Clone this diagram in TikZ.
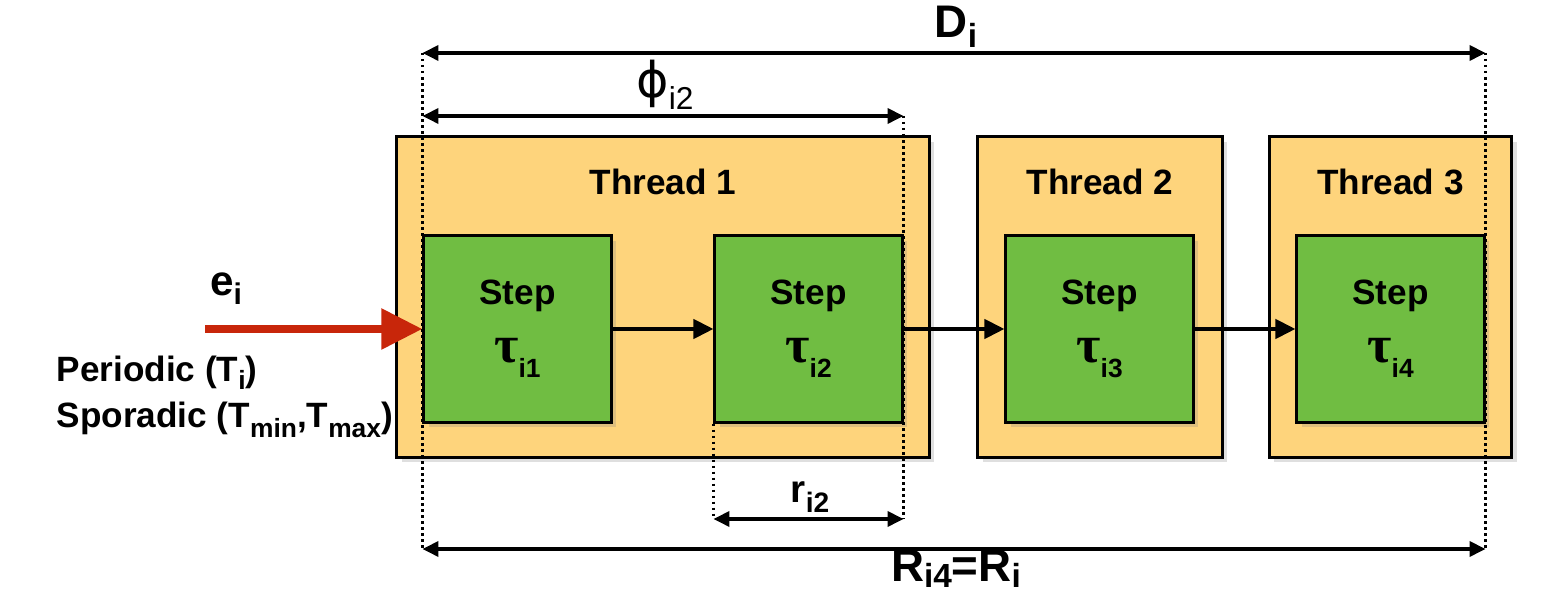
\documentclass[tikz,border=0pt]{standalone}
\usepackage{fontspec}
\setmainfont{Liberation Sans}
\newfontfamily\taufont{Liberation Serif}
\newfontfamily\phifont{DejaVu Sans}
\usetikzlibrary{arrows.meta,shadows}
\definecolor{thr}{RGB}{254,212,124}
\definecolor{stp}{RGB}{112,189,66}
\definecolor{evt}{RGB}{200,38,10}
\newcommand{\lowsub}[3]{\raisebox{-#1}{\fontsize{#2}{#2}\selectfont #3}}

\begin{document}
\begin{tikzpicture}[x=0.01cm,y=-0.01cm,font=\bfseries\fontsize{10}{12}\selectfont,
  threadbox/.style={draw,line width=0.85pt,fill=thr,inner sep=0pt,minimum height=32mm,
    drop shadow={shadow xshift=0.5mm,shadow yshift=-0.5mm,opacity=0.25}},
  stepbox/.style={draw,line width=0.85pt,fill=stp,inner sep=0pt,minimum width=18.7mm,
    minimum height=18.6mm,align=center,
    drop shadow={shadow xshift=0.5mm,shadow yshift=-0.5mm,opacity=0.25}},
  flow/.style={line width=1.2pt,-{Triangle[length=2mm,width=1.9mm]}},
  dimline/.style={line width=1pt,{Triangle[length=1.6mm,width=1.5mm]}-{Triangle[length=1.6mm,width=1.5mm]}},
  guide/.style={line width=0.9pt,dash pattern=on 0.25mm off 0.35mm}]
\useasboundingbox (0,0) rectangle (1560,595);
% threads
\foreach \n/\cx/\w in {1/663/53.2,2/1100/24.4,3/1390.5/24.2}{
  \node[threadbox,minimum width=\w mm] (t\n) at (\cx,297) {};
  \node[anchor=base] (tl\n) at (\cx,195) {Thread \n};
}
% steps
\foreach \n/\cx in {1/517.5,2/808.5,3/1099.5,4/1390.5}{
  \node[stepbox] (s\n) at (\cx,329) {Step\\[4.5pt]{\taufont\fontsize{15}{15}\selectfont τ}\lowsub{1.5mm}{7.5}{i\n}};
}
\foreach \a/\b in {1/2,2/3,3/4}{ \draw[flow] (s\a) -- (s\b); }
% event
\coordinate (ev) at (205,329);
\draw[evt,line width=2.4pt,-{Triangle[length=4.1mm,width=3.9mm]}] (ev) -- (s1.west);
\node[anchor=base] (ei) at (226,296) {\fontsize{12}{14}\selectfont e\lowsub{0.9mm}{8.5}{i}};
\node[anchor=base west,inner sep=0pt] (per) at (56,382) {Periodic (T\lowsub{0.8mm}{7.5}{i})};
\node[anchor=base west,inner sep=0pt] (spo) at (56,428) {Sporadic (T\lowsub{1mm}{7.5}{min},T\lowsub{1mm}{7.5}{max})};
% cotes
\coordinate (dl) at (s1.west |- 0,53);
\coordinate (dr) at (s4.east |- 0,53);
\coordinate (pl) at (s1.west |- 0,116);
\coordinate (pr) at (s2.east |- 0,116);
\coordinate (rl) at (s2.west |- 0,519);
\coordinate (rr) at (s2.east |- 0,519);
\coordinate (Rl) at (s1.west |- 0,549);
\coordinate (Rr) at (s4.east |- 0,549);
\draw[guide] (dl) -- (Rl);
\draw[guide] (dr) -- (Rr);
\draw[guide] (pr) -- (rr);
\draw[guide] (s2.south west) -- (rl);
\draw[dimline] (dl) -- (dr);
\draw[dimline] (pl) -- (pr);
\draw[dimline] (rl) -- (rr);
\draw[dimline] (Rl) -- (Rr);
\node[anchor=base] (Di) at (956,38) {\fontsize{13}{15}\selectfont D\lowsub{1mm}{9.5}{i}};
\node[anchor=base] (phi) at (665,98) {\mdseries{\phifont\fontsize{14}{16}\selectfont ϕ}\lowsub{1.2mm}{9}{i2}};
\node[anchor=base] (ri) at (810,503) {\fontsize{11}{13}\selectfont r\lowsub{1mm}{8}{i2}};
\node[anchor=base] (Ri) at (956,582) {\fontsize{13}{15}\selectfont R\lowsub{0.6mm}{9.5}{i4}=R\lowsub{0.6mm}{9.5}{i}};
\end{tikzpicture}
\end{document}
